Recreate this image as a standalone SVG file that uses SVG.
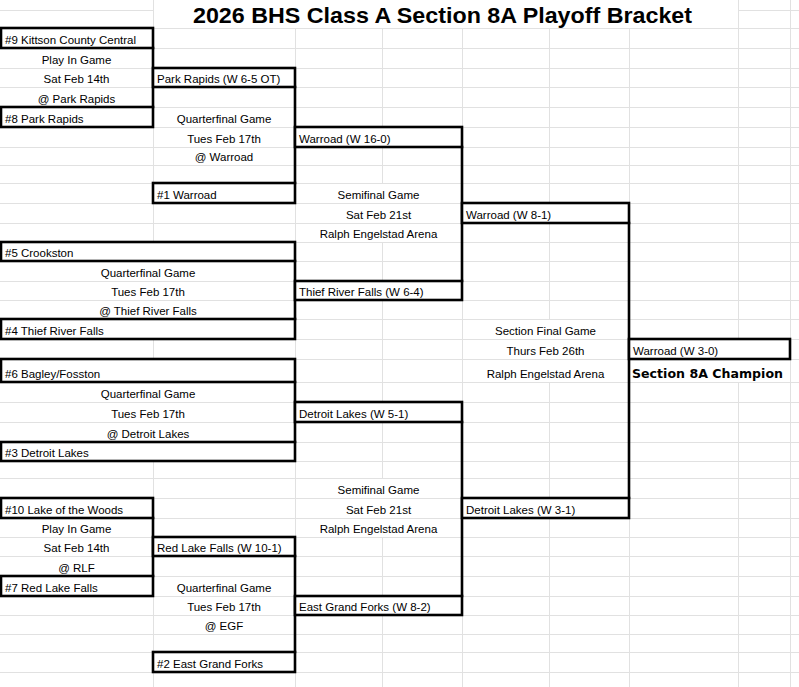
<svg xmlns="http://www.w3.org/2000/svg" width="799" height="687" viewBox="0 0 799 687">
<style>
.grid{stroke:#e1e1e1;stroke-width:1;fill:none}
.box rect{fill:#fff;stroke:#000;stroke-width:2.6}
.box text{font-family:"Liberation Sans",Arial,sans-serif;font-size:11.5px;fill:#000}
.lbl text{font-family:"Liberation Sans",Arial,sans-serif;font-size:11.5px;fill:#000;text-anchor:middle}
.conn{stroke:#000;stroke-width:2.6;fill:none;stroke-linecap:square}
.title{font-family:"Liberation Sans",Arial,sans-serif;font-weight:bold;font-size:22px;fill:#000}
.champ{font-family:"DejaVu Sans",sans-serif;font-weight:bold;font-size:13px;fill:#000}
</style>
<rect x="0" y="0" width="799" height="687" fill="#fff"/>
<g id="grid">
<path class="grid" d="M0 10.5H153M738 10.5H799M0 28.5H799M0 48.5H799M0 68.5H799M0 87.5H799M0 107.5H799M0 127.5H799M0 147.5H799M0 165.5H799M0 183.5H799M0 203.5H799M0 223.5H799M0 242.5H799M0 261.5H799M0 281.5H799M0 300.5H799M0 319.5H799M0 339.5H799M0 359.5H799M0 382.5H799M0 402.5H799M0 422.5H799M0 442.5H799M0 461.5H799M0 478.5H799M0 498.5H799M0 518.5H799M0 537.5H799M0 556.5H799M0 576.5H799M0 596.5H799M0 615.5H799M0 634.5H799M0 652.5H799M0 672.5H799"/>
<path class="grid" d="M153.5 0V242M153.5 339V359M153.5 461V687M295.5 28V687M382.5 28V127M382.5 147V183M382.5 242V281M382.5 300V402M382.5 422V478M382.5 537V596M382.5 615V687M462.5 28V687M549.5 28V203M549.5 223V319M549.5 382V498M549.5 518V687M629.5 28V687M738.5 0V339M738.5 382V687M790.5 0V687"/>
</g>
<text id="title" class="title" x="193" y="22.7" textLength="499" lengthAdjust="spacingAndGlyphs">2026 BHS Class A Section 8A Playoff Bracket</text>
<g id="connectors">
<path class="conn" d="M153 48V107M295 87V183M462 147V281M295 261V319M629 223V498M295 382V442M462 422V596M153 518V576M295 556V652"/>
</g>
<g id="n9" class="box"><rect x="1" y="28" width="152" height="20"/><text x="5" y="43.5">#9 Kittson County Central</text></g>
<g id="n8" class="box"><rect x="1" y="107" width="152" height="20"/><text x="5" y="122.5">#8 Park Rapids</text></g>
<g id="qf-park-rapids" class="box"><rect x="153" y="68" width="142" height="19"/><text x="157" y="82.5">Park Rapids (W 6-5 OT)</text></g>
<g id="n1" class="box"><rect x="153" y="183" width="142" height="20"/><text x="157" y="198.5">#1 Warroad</text></g>
<g id="sf-warroad" class="box"><rect x="295" y="127" width="167" height="20"/><text x="299" y="142.5">Warroad (W 16-0)</text></g>
<g id="n5" class="box"><rect x="1" y="242" width="294" height="19"/><text x="5" y="256.5">#5 Crookston</text></g>
<g id="n4" class="box"><rect x="1" y="319" width="294" height="20"/><text x="5" y="334.5">#4 Thief River Falls</text></g>
<g id="sf-trf" class="box"><rect x="295" y="281" width="167" height="19"/><text x="299" y="295.5">Thief River Falls (W 6-4)</text></g>
<g id="f-warroad" class="box"><rect x="462" y="203" width="167" height="20"/><text x="466" y="218.5">Warroad (W 8-1)</text></g>
<g id="champion" class="box"><rect x="629" y="339" width="161" height="20"/><text x="633" y="354.5">Warroad (W 3-0)</text></g>
<g id="n6" class="box"><rect x="1" y="359" width="294" height="23"/><text x="5" y="377.5">#6 Bagley/Fosston</text></g>
<g id="n3" class="box"><rect x="1" y="442" width="294" height="19"/><text x="5" y="456.5">#3 Detroit Lakes</text></g>
<g id="sf-dl" class="box"><rect x="295" y="402" width="167" height="20"/><text x="299" y="417.5">Detroit Lakes (W 5-1)</text></g>
<g id="f-dl" class="box"><rect x="462" y="498" width="167" height="20"/><text x="466" y="513.5">Detroit Lakes (W 3-1)</text></g>
<g id="n10" class="box"><rect x="1" y="498" width="152" height="20"/><text x="5" y="513.5">#10 Lake of the Woods</text></g>
<g id="n7" class="box"><rect x="1" y="576" width="152" height="20"/><text x="5" y="591.5">#7 Red Lake Falls</text></g>
<g id="qf-rlf" class="box"><rect x="153" y="537" width="142" height="19"/><text x="157" y="551.5">Red Lake Falls (W 10-1)</text></g>
<g id="n2" class="box"><rect x="153" y="652" width="142" height="20"/><text x="157" y="667.5">#2 East Grand Forks</text></g>
<g id="sf-egf" class="box"><rect x="295" y="596" width="167" height="19"/><text x="299" y="610.5">East Grand Forks (W 8-2)</text></g>
<g id="game-playin-1" class="lbl"><text x="76.5" y="64">Play In Game</text><text x="76.5" y="83">Sat Feb 14th</text><text x="76.5" y="102.5">@ Park Rapids</text></g>
<g id="game-qf-1" class="lbl"><text x="224" y="122.5">Quarterfinal Game</text><text x="224" y="142.5">Tues Feb 17th</text><text x="224" y="161">@ Warroad</text></g>
<g id="game-sf-1" class="lbl"><text x="378.5" y="198.5">Semifinal Game</text><text x="378.5" y="218.5">Sat Feb 21st</text><text x="378.5" y="238">Ralph Engelstad Arena</text></g>
<g id="game-qf-2" class="lbl"><text x="148" y="276.5">Quarterfinal Game</text><text x="148" y="295.5">Tues Feb 17th</text><text x="148" y="314.5">@ Thief River Falls</text></g>
<g id="game-final" class="lbl"><text x="545.5" y="334.5">Section Final Game</text><text x="545.5" y="354.5">Thurs Feb 26th</text><text x="545.5" y="377.5">Ralph Engelstad Arena</text></g>
<g id="game-qf-3" class="lbl"><text x="148" y="397.5">Quarterfinal Game</text><text x="148" y="417.5">Tues Feb 17th</text><text x="148" y="437.5">@ Detroit Lakes</text></g>
<g id="game-sf-2" class="lbl"><text x="378.5" y="493.5">Semifinal Game</text><text x="378.5" y="513.5">Sat Feb 21st</text><text x="378.5" y="532.5">Ralph Engelstad Arena</text></g>
<g id="game-playin-2" class="lbl"><text x="76.5" y="532.5">Play In Game</text><text x="76.5" y="551.5">Sat Feb 14th</text><text x="76.5" y="571.5">@ RLF</text></g>
<g id="game-qf-4" class="lbl"><text x="224" y="591.5">Quarterfinal Game</text><text x="224" y="610.5">Tues Feb 17th</text><text x="224" y="629.5">@ EGF</text></g>
<text id="champion-label" class="champ" x="632" y="377.5" textLength="151" lengthAdjust="spacingAndGlyphs">Section 8A Champion</text>
</svg>
